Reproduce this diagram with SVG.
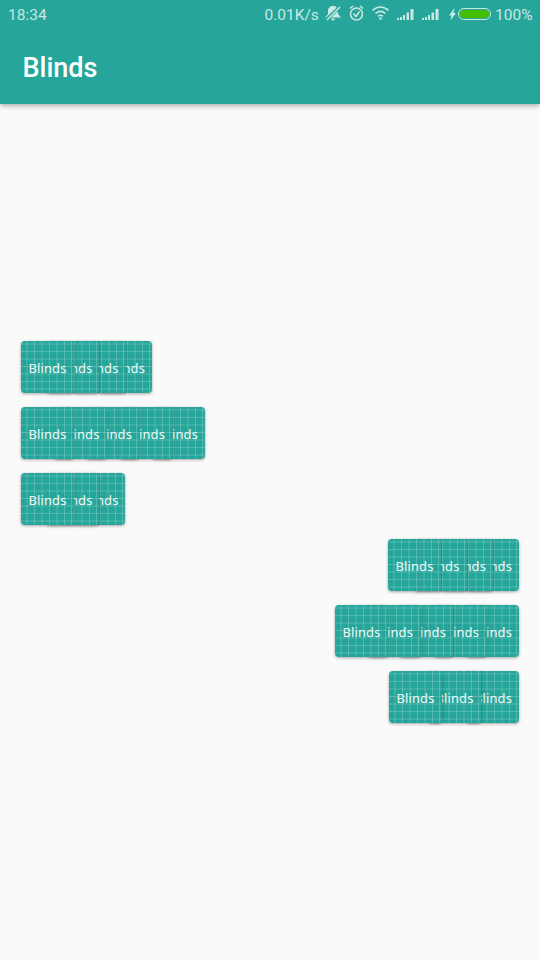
<svg xmlns="http://www.w3.org/2000/svg" width="540" height="960" viewBox="0 0 540 960">
<style>
.st{font-family:Roboto,"Liberation Sans",sans-serif;font-size:15.5px;fill:#c9e8e4}
.ic{fill:none;stroke:#c9e8e4;stroke-width:1.6}
.icf{fill:#c9e8e4}
.t{font-family:"Noto Sans","Open Sans",sans-serif;font-size:13px;letter-spacing:.1px;fill:#f0f9f8;text-anchor:end}
</style>
<defs>
<filter id="bar" x="-5%" y="-5%" width="110%" height="120%"><feDropShadow dx="0" dy="2" stdDeviation="2.5" flood-color="#000" flood-opacity=".3"/></filter>
<filter id="sh" x="-15%" y="-15%" width="130%" height="130%"><feDropShadow dx="0" dy="1" stdDeviation="1.4" flood-color="#000" flood-opacity=".34"/></filter>
<clipPath id="pc"><rect width="53" height="52" rx="4"/></clipPath>
<g id="grid" stroke="#7fcbc4" stroke-opacity=".5" stroke-width="1" fill="none">
<path d="M6 0V52M13.500 0V52M21 0V52M28.500 0V52M36 0V52M43.500 0V52M50.500 0V52M0 3H53M0 10.500H53M0 18H53M0 25.500H53M0 33H53M0 40.500H53M0 48H53"/>
</g>
<g id="panel">
<rect width="53" height="52" rx="4" fill="#26a69a" filter="url(#sh)"/>
<g clip-path="url(#pc)"><use href="#grid"/></g>
</g>
</defs>
<rect width="540" height="960" fill="#fafafa"/>
<g id="appbar">
<rect width="540" height="104" fill="#26a69a" filter="url(#bar)"/>
<text x="22.500" y="77" font-family="Roboto,'Liberation Sans',sans-serif" font-size="27" font-weight="500" fill="#fff">Blinds</text>
</g>
<g id="statusbar">
<text class="st" x="8" y="20">18:34</text>
<text class="st" x="264.500" y="20">0.01K/s</text>
<g id="icon-bell"><path class="icf" d="M333 6c-3 0-5 2-5 5v3l-3 3.500h16l-3-3.500v-3c0-3-2-5-5-5zM331 18.500h4a2 2 0 0 1-4 0z"/><path d="M326 20 341 6" stroke="#26a69a" stroke-width="3.500"/><path d="M327 20 340 7" stroke="#c9e8e4" stroke-width="1.500"/></g>
<g id="icon-alarm"><circle class="ic" cx="356.500" cy="14" r="6"/><path class="ic" d="M353.500 13.500l2.500 3 3.500-5M350 8.500l3-2.500M363 8.500l-3-2.500"/></g>
<g id="icon-wifi"><path class="ic" d="M372.500 10.500c5-4.500 11-4.500 16 0M375.500 13.500c3-2.500 7-2.500 10 0"/><path class="ic" d="M378 16.300c1.500-1.200 3.500-1.200 5 0"/><circle class="icf" cx="380.500" cy="18.500" r="1.300"/></g>
<g id="icon-signal1" class="icf"><rect x="397" y="18" width="2" height="2"/><rect x="400" y="17" width="2" height="3"/><rect x="403" y="15" width="2" height="5"/><rect x="406.500" y="12.500" width="2.500" height="7.500"/><rect x="410.500" y="9" width="3" height="11"/></g>
<g id="icon-signal2" class="icf"><rect x="422" y="18" width="2" height="2"/><rect x="425" y="17" width="2" height="3"/><rect x="428" y="15" width="2" height="5"/><rect x="431.500" y="12.500" width="2.500" height="7.500"/><rect x="435.500" y="9" width="3" height="11"/></g>
<path id="icon-bolt" class="icf" d="M454.500 8 449 15.500h2.500L450.500 20.500 456 13h-2.500z"/>
<g id="icon-battery"><rect x="458.500" y="8.500" width="32" height="11" rx="5.500" fill="none" stroke="#c9e8e4"/><rect x="460" y="10" width="29" height="8" rx="4" fill="#44c000"/></g>
<text class="st" x="495" y="20">100%</text>
</g>
<g id="row1">
<use href="#panel" x="99" y="341"/><text class="t" x="145" y="372.500">Blinds</text>
<use href="#panel" x="73" y="341"/><text class="t" x="118.500" y="372.500">Blinds</text>
<use href="#panel" x="46" y="341"/><text class="t" x="92.500" y="372.500">Blinds</text>
<use href="#panel" x="21" y="341"/><text class="t" x="66.500" y="372.500">Blinds</text>
</g>
<g id="row2">
<use href="#panel" x="152" y="407"/><text class="t" x="198" y="438.500">Blinds</text>
<use href="#panel" x="119" y="407"/><text class="t" x="165" y="438.500">Blinds</text>
<use href="#panel" x="86" y="407"/><text class="t" x="132" y="438.500">Blinds</text>
<use href="#panel" x="54" y="407"/><text class="t" x="99.500" y="438.500">Blinds</text>
<use href="#panel" x="21" y="407"/><text class="t" x="66.500" y="438.500">Blinds</text>
</g>
<g id="row3">
<use href="#panel" x="72" y="473"/><text class="t" x="118.500" y="504.500">Blinds</text>
<use href="#panel" x="46" y="473"/><text class="t" x="92.500" y="504.500">Blinds</text>
<use href="#panel" x="21" y="473"/><text class="t" x="66.500" y="504.500">Blinds</text>
</g>
<g id="row4">
<use href="#panel" x="466" y="539"/><text class="t" x="512" y="570.500">Blinds</text>
<use href="#panel" x="440" y="539"/><text class="t" x="486" y="570.500">Blinds</text>
<use href="#panel" x="414" y="539"/><text class="t" x="459.500" y="570.500">Blinds</text>
<use href="#panel" x="388" y="539"/><text class="t" x="433.500" y="570.500">Blinds</text>
</g>
<g id="row5">
<use href="#panel" x="466" y="605"/><text class="t" x="512" y="636.500">Blinds</text>
<use href="#panel" x="434" y="605"/><text class="t" x="479" y="636.500">Blinds</text>
<use href="#panel" x="400" y="605"/><text class="t" x="446" y="636.500">Blinds</text>
<use href="#panel" x="368" y="605"/><text class="t" x="413" y="636.500">Blinds</text>
<use href="#panel" x="335" y="605"/><text class="t" x="380.500" y="636.500">Blinds</text>
</g>
<g id="row6">
<use href="#panel" x="466" y="671"/><text class="t" x="512" y="702.500">Blinds</text>
<use href="#panel" x="428" y="671"/><text class="t" x="473.500" y="702.500">Blinds</text>
<use href="#panel" x="389" y="671"/><text class="t" x="434.500" y="702.500">Blinds</text>
</g>
</svg>
